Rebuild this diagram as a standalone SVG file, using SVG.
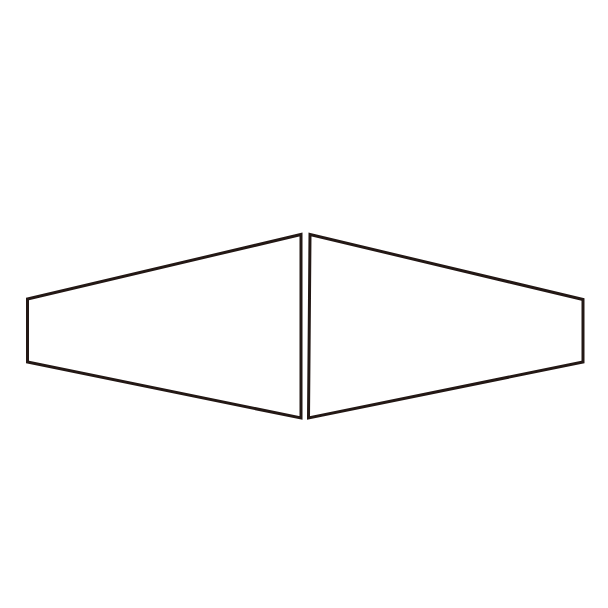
<svg xmlns="http://www.w3.org/2000/svg" width="608" height="608" viewBox="0 0 608 608">
<style>.s{fill:#fff;stroke:#231815;stroke-width:3;stroke-linejoin:miter}</style>
<rect width="608" height="608" fill="#fff"/>
<g id="left"><polygon class="s" points="27.5,299 301,234.5 301,418 27.5,362"/></g>
<g id="right"><polygon class="s" points="310,234.5 583,299.5 583,362 308.5,418"/></g>
</svg>
